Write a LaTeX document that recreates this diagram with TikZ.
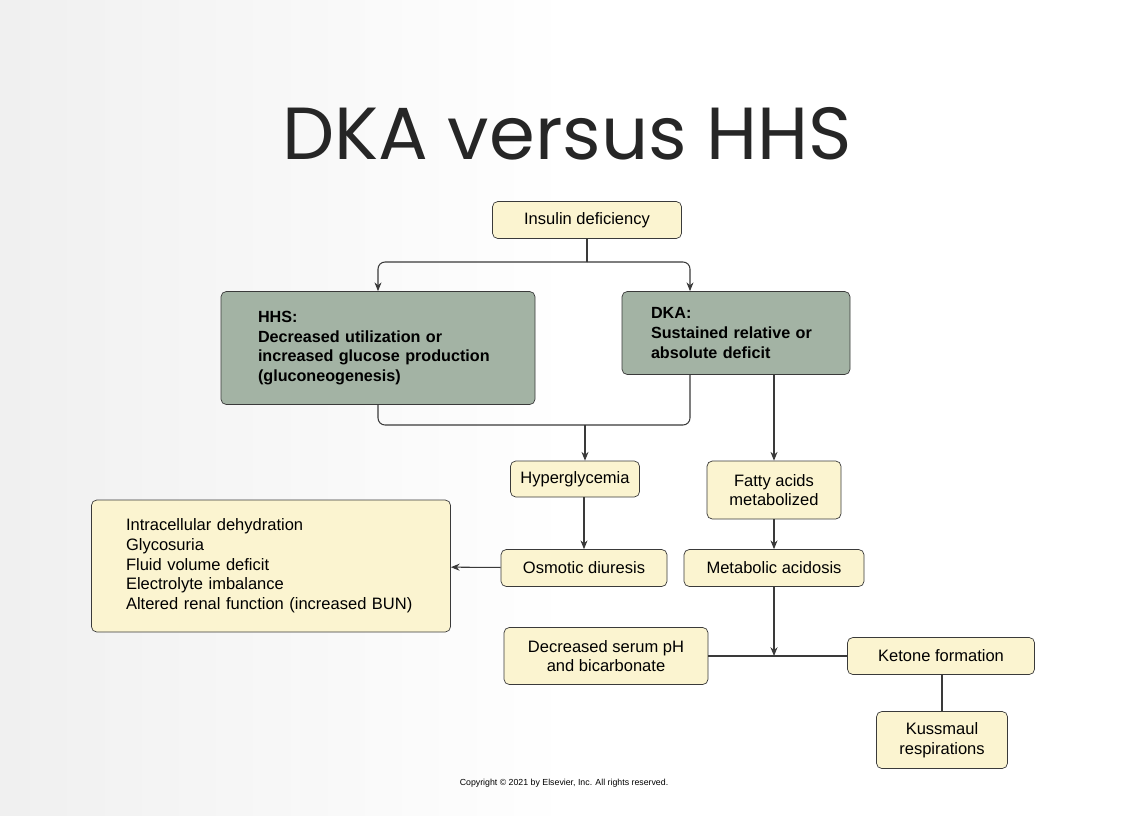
\documentclass[tikz,border=0pt]{standalone}
\usepackage{fontspec}
\setmainfont{Liberation Sans}
\newfontfamily\titlefont{Poppins}
\usetikzlibrary{arrows.meta}
\definecolor{boxcream}{HTML}{FBF4D0}
\definecolor{boxgreen}{HTML}{A3B3A4}
\definecolor{linegray}{HTML}{3A3A3A}
\tikzset{
  box/.style={draw=linegray,fill=boxcream,rounded corners=3pt,align=center,font=\fontsize{9.4}{11.2}\selectfont,inner sep=0pt},
  gbox/.style={box,fill=boxgreen,font=\bfseries\fontsize{9.2}{11.2}\selectfont,align=left},
  conn/.style={draw=linegray,line width=0.6pt,rounded corners=4pt},
  arr/.style={conn,-{Stealth[length=5pt,width=4pt]}}
}
\begin{document}
\begin{tikzpicture}[x=0.02cm,y=-0.02cm]
    \shade[left color=gray!12,right color=white,middle color=white] (0,0) rectangle (1138,815);
    \useasboundingbox (0,0) rectangle (1138,815);

		\node[text=black!85] at (567,134) {\titlefont\fontsize{42}{42}\selectfont DKA versus HHS};
		\node[font=\fontsize{5}{6}\selectfont] at (564,783) {Copyright \textcopyright{} 2021 by Elsevier, Inc. All rights reserved.};

		\node[box,minimum width=189*0.02cm,minimum height=37*0.02cm] (ins) at (587,220) {Insulin deficiency};
		\node[gbox,minimum width=314*0.02cm,minimum height=113*0.02cm,text width=240*0.02cm] (hhs) at (378,348) {HHS:\\Decreased utilization or\\increased glucose production\\(gluconeogenesis)};
		\node[gbox,minimum width=228*0.02cm,minimum height=83*0.02cm,text width=170*0.02cm] (dka) at (736,333) {DKA:\\Sustained relative or\\absolute deficit};
		\node[box,minimum width=129*0.02cm,minimum height=36*0.02cm] (hyp) at (575,479) {Hyperglycemia};
		\node[box,minimum width=134*0.02cm,minimum height=58*0.02cm] (fat) at (774,490) {Fatty acids\\metabolized};
		\node[box,minimum width=166*0.02cm,minimum height=37*0.02cm] (osm) at (584,568) {Osmotic diuresis};
		\node[box,minimum width=359*0.02cm,minimum height=132*0.02cm,align=left,text width=290*0.02cm] (eff) at (271,566) {Intracellular dehydration\\Glycosuria\\Fluid volume deficit\\Electrolyte imbalance\\Altered renal function (increased BUN)};
		\node[box,minimum width=180*0.02cm,minimum height=37*0.02cm] (met) at (774,568) {Metabolic acidosis};
		\node[box,minimum width=204*0.02cm,minimum height=57*0.02cm] (ph) at (606,656) {Decreased serum pH\\and bicarbonate};
		\node[box,minimum width=187*0.02cm,minimum height=37*0.02cm] (ket) at (941,656) {Ketone formation};
		\node[box,minimum width=131*0.02cm,minimum height=57*0.02cm] (kus) at (942,740) {Kussmaul\\respirations};

		\coordinate (split) at (587,262);
		\coordinate (join) at (585,425);
		\coordinate (mid) at (774,656);

		\draw[conn] (ins) -- (split);
		\draw[arr] (split) -| (hhs.north);
		\draw[arr] (split) -| ([xshift=-46*0.02cm]dka.north);
		\draw[conn] (hhs.south) |- (join) -| ([xshift=-46*0.02cm]dka.south);
		\draw[arr] (join) -- (hyp.north -| join);
		\draw[arr] (dka.south -| fat) -- (fat.north);
		\draw[arr] (hyp.south -| osm) -- (osm.north);
		\draw[arr] (fat) -- (met);
		\draw[arr] (osm) -- (eff);
		\draw[conn] (ph) -- (ket);
		\draw[arr] (met) -- (mid);
		\draw[conn] (ket.south -| kus) -- (kus.north);
\end{tikzpicture}
\end{document}
